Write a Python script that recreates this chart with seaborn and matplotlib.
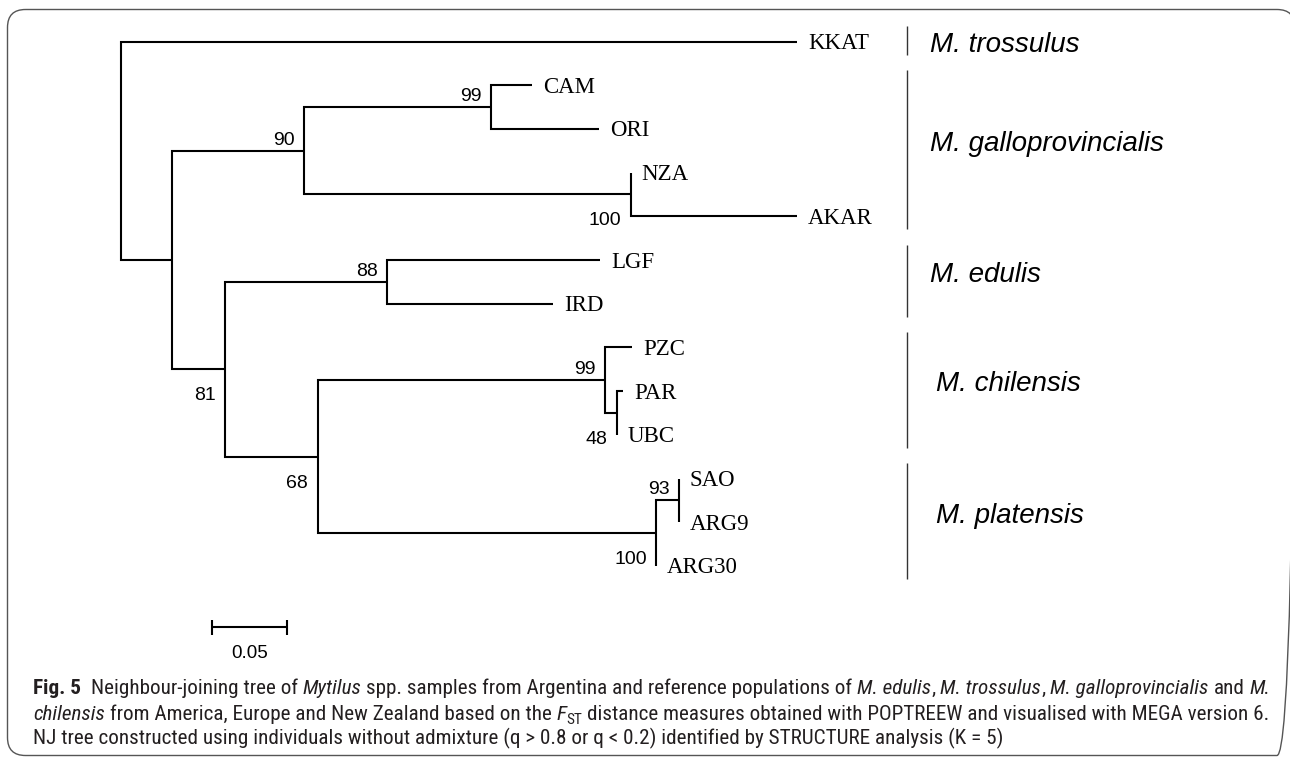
import numpy as np
import pandas as pd
import matplotlib
matplotlib.use("Agg")
import matplotlib.pyplot as plt
import matplotlib.font_manager as fm
from matplotlib.patches import FancyBboxPatch
import seaborn as sns

# ------------------------------------------------------------------ data
leaf_order = ["KKAT", "CAM", "ORI", "NZA", "AKAR", "LGF", "IRD",
              "PZC", "PAR", "UBC", "SAO", "ARG9", "ARG30"]
nodes = ["KKAT", "B", "G90", "G99", "CAM", "ORI", "G100", "NZA", "AKAR",
         "C81", "E88", "LGF", "IRD", "D68", "Ch99", "PZC", "Ch48", "PAR",
         "UBC", "P100", "P93", "SAO", "ARG9", "ARG30"]
parents = ["root", "root", "B", "G90", "G99", "G99", "G90", "G100", "G100",
           "B", "C81", "E88", "E88", "C81", "D68", "Ch99", "Ch99", "Ch48",
           "Ch48", "D68", "P100", "P93", "P93", "P100"]
branch_lengths = [0.447, 0.034, 0.087, 0.124, 0.027, 0.071, 0.216, 0.000, 0.110,
                  0.035, 0.107, 0.141, 0.110, 0.061, 0.190, 0.018, 0.008, 0.004,
                  0.000, 0.224, 0.015, 0.000, 0.000, 0.000]
boot_nodes = ["G90", "G99", "G100", "C81", "E88", "D68", "Ch99", "Ch48", "P100", "P93"]
boot_values = [90, 99, 100, 81, 88, 68, 99, 48, 100, 93]
species = ["M. trossulus", "M. galloprovincialis", "M. edulis", "M. chilensis", "M. platensis"]
species_members = [["KKAT"], ["CAM", "ORI", "NZA", "AKAR"], ["LGF", "IRD"],
                   ["PZC", "PAR", "UBC"], ["SAO", "ARG9", "ARG30"]]
scale_value = 0.05
scale_label = "0.05"

caption_lines = [
    [("Fig. 5", "bold"), ("  Neighbour-joining tree of ", "normal"), ("Mytilus", "italic"),
     (" spp. samples from Argentina and reference populations of ", "normal"),
     ("M. edulis", "italic"), (", ", "normal"), ("M. trossulus", "italic"), (", ", "normal"),
     ("M. galloprovincialis", "italic"), (" and ", "normal"), ("M.", "italic")],
    [("chilensis", "italic"), (" from America, Europe and New Zealand based on the ", "normal"),
     ("F", "italic"), ("ST", "sub"),
     (" distance measures obtained with POPTREEW and visualised with MEGA version 6.", "normal")],
    [("NJ tree constructed using individuals without admixture (q > 0.8 or q < 0.2) "
      "identified by STRUCTURE analysis (K = 5)", "normal")],
]

# styling: label side for bootstrap values, label gap for species names
boot_side = ["above", "above", "below", "below", "above", "below", "above", "below", "below", "above"]
species_gap_px = [23, 23, 23, 29, 29]

# ------------------------------------------------------------------ layout of the tree
children = {}
for n, p in zip(nodes, parents):
    children.setdefault(p, []).append(n)
blen = dict(zip(nodes, branch_lengths))
blen["root"] = 0.0

xpos, ypos = {}, {}

def place_x(n, x):
    xpos[n] = x
    for c in children.get(n, []):
        place_x(c, x + blen[c])

def place_y(n):
    if n not in children:
        ypos[n] = float(leaf_order.index(n))
    else:
        ys = [place_y(c) for c in children[n]]
        ypos[n] = (min(ys) + max(ys)) / 2.0
    return ypos[n]

place_x("root", 0.0)
place_y("root")

rows = []
for i, (n, p) in enumerate(zip(nodes, parents)):
    for k, (xx, yy) in enumerate([(xpos[p], ypos[p]), (xpos[p], ypos[n]), (xpos[n], ypos[n])]):
        rows.append({"seg": i, "order": k, "x": xx, "y": yy})
seg_df = pd.DataFrame(rows)

# ------------------------------------------------------------------ figure
sns.set_theme(style="white")
W, H, DPI = 1290, 757, 100
fig = plt.figure(figsize=(W / DPI, H / DPI), dpi=DPI)
fig.patch.set_facecolor("white")

# pixel overlay for the frame and caption
pix = fig.add_axes([0, 0, 1, 1])
pix.set_xlim(0, W)
pix.set_ylim(H, 0)
pix.axis("off")

# tree axes: distance on x, leaf index on y
ax = fig.add_axes([0, 0, 1, 1])
ax.patch.set_alpha(0)
PX_PER_UNIT = 1512.0
X0_PX = 121.0
ROW_PX = 43.7
Y0_PX = 41.5
XL = (-X0_PX / PX_PER_UNIT, (W - X0_PX) / PX_PER_UNIT)
YL = ((H - Y0_PX) / ROW_PX, -Y0_PX / ROW_PX)

sns.lineplot(data=seg_df, x="x", y="y", units="seg", estimator=None, sort=False,
             color="black", linewidth=1.5, ax=ax, legend=False,
             solid_joinstyle="miter", solid_capstyle="butt")

# leaf labels
for leaf in leaf_order:
    ax.annotate(leaf, xy=(xpos[leaf], ypos[leaf]), xytext=(11, -7.5),
                textcoords="offset pixels", ha="left", va="baseline",
                fontfamily="Liberation Serif", fontsize=16.5, color="black")

# bootstrap values
for n, v, side in zip(boot_nodes, boot_values, boot_side):
    dy = 6 if side == "above" else -31
    ax.annotate(str(v), xy=(xpos[n], ypos[n]), xytext=(-9.5, dy),
                textcoords="offset pixels", ha="right", va="baseline",
                fontfamily="Liberation Sans", fontsize=14, color="black")

# species brackets and names
SEP_X = 0.52
for name, members, gap in zip(species, species_members, species_gap_px):
    ys = [ypos[m] for m in members]
    top, bot = min(ys) - 0.35, max(ys) + 0.3
    ax.plot([SEP_X, SEP_X], [top, bot], color="#333333", lw=1.0, solid_capstyle="butt")
    ymid = (min(ys) + max(ys)) / 2.0 - (0.22 if len(members) > 1 else 0.0)
    ax.annotate(name, xy=(SEP_X, ymid), xytext=(gap, -10), textcoords="offset pixels",
                ha="left", va="baseline", fontfamily="Liberation Sans",
                fontstyle="italic", fontsize=20, color="black")

# scale bar
SB_X, SB_Y, TICK = 0.06, 13.4, 0.17
sb_df = pd.DataFrame({"x": [SB_X, SB_X + scale_value], "y": [SB_Y, SB_Y]})
sns.lineplot(data=sb_df, x="x", y="y", color="black", linewidth=1.5, ax=ax,
             estimator=None, sort=False, legend=False, solid_capstyle="butt")
for xx in (SB_X, SB_X + scale_value):
    ax.plot([xx, xx], [SB_Y - TICK, SB_Y + TICK], color="black", lw=1.5, solid_capstyle="butt")
ax.annotate(scale_label, xy=(SB_X + scale_value / 2, SB_Y), xytext=(0, -26),
            textcoords="offset pixels", ha="center", va="center",
            fontfamily="Liberation Sans", fontsize=13.5, color="black")
ax.set_xlim(*XL)
ax.set_ylim(*YL)
ax.axis("off")

# rounded frame
frame = FancyBboxPatch((7.5, 9.5), 1295 - 7.5, 755.5 - 9.5,
                       boxstyle="round,pad=0,rounding_size=18",
                       fc="none", ec="#555555", lw=1.0, transform=pix.transData,
                       clip_on=False)
pix.add_patch(frame)

# caption
names = {f.name for f in fm.fontManager.ttflist}
cap_font = "Lato"
for cand in ["Roboto Condensed", "Liberation Sans Narrow", "Open Sans Condensed", "Noto Sans Condensed"]:
    if cand in names:
        cap_font = cand
        break
cap_color = "#231f20"
renderer = fig.canvas.get_renderer()

def style_kw(style, fs):
    kw = dict(fontfamily=cap_font, fontsize=fs, color=cap_color)
    dy = 0.0
    if style == "bold":
        kw["fontweight"] = "bold"
    elif style == "italic":
        kw["fontstyle"] = "italic"
    elif style == "sub":
        kw["fontsize"] = fs * 0.72
        dy = fs * DPI / 72.0 * 0.22
    return kw, dy

def text_w(s, kw):
    t = pix.text(0, 0, s, **kw)
    w = t.get_window_extent(renderer).width
    t.remove()
    return w

def advance(s, kw):
    # advance width of s, measured between two guard glyphs
    return text_w("x" + s + "x", kw) - text_w("xx", kw)

def draw_line(segs, x0, yb, fs, draw=True):
    x = x0
    for text, style in segs:
        kw, dy = style_kw(style, fs)
        if draw:
            core = text.strip(" ")
            lead = len(text) - len(text.lstrip(" "))
            sp = advance(" ", kw)
            pix.text(x + lead * sp, yb + dy, core, ha="left", va="baseline", **kw)
        x += advance(text, kw)
    return x - x0

CAP_X = 33.0
w10 = draw_line(caption_lines[0], CAP_X, 0, 10.0, draw=False)
cap_fs = 10.0 * (1263.0 - CAP_X) / w10
for line, yb in zip(caption_lines, [694.0, 719.5, 744.0]):
    draw_line(line, CAP_X, yb, cap_fs)

fig.savefig("out.png", dpi=DPI, facecolor="white")
